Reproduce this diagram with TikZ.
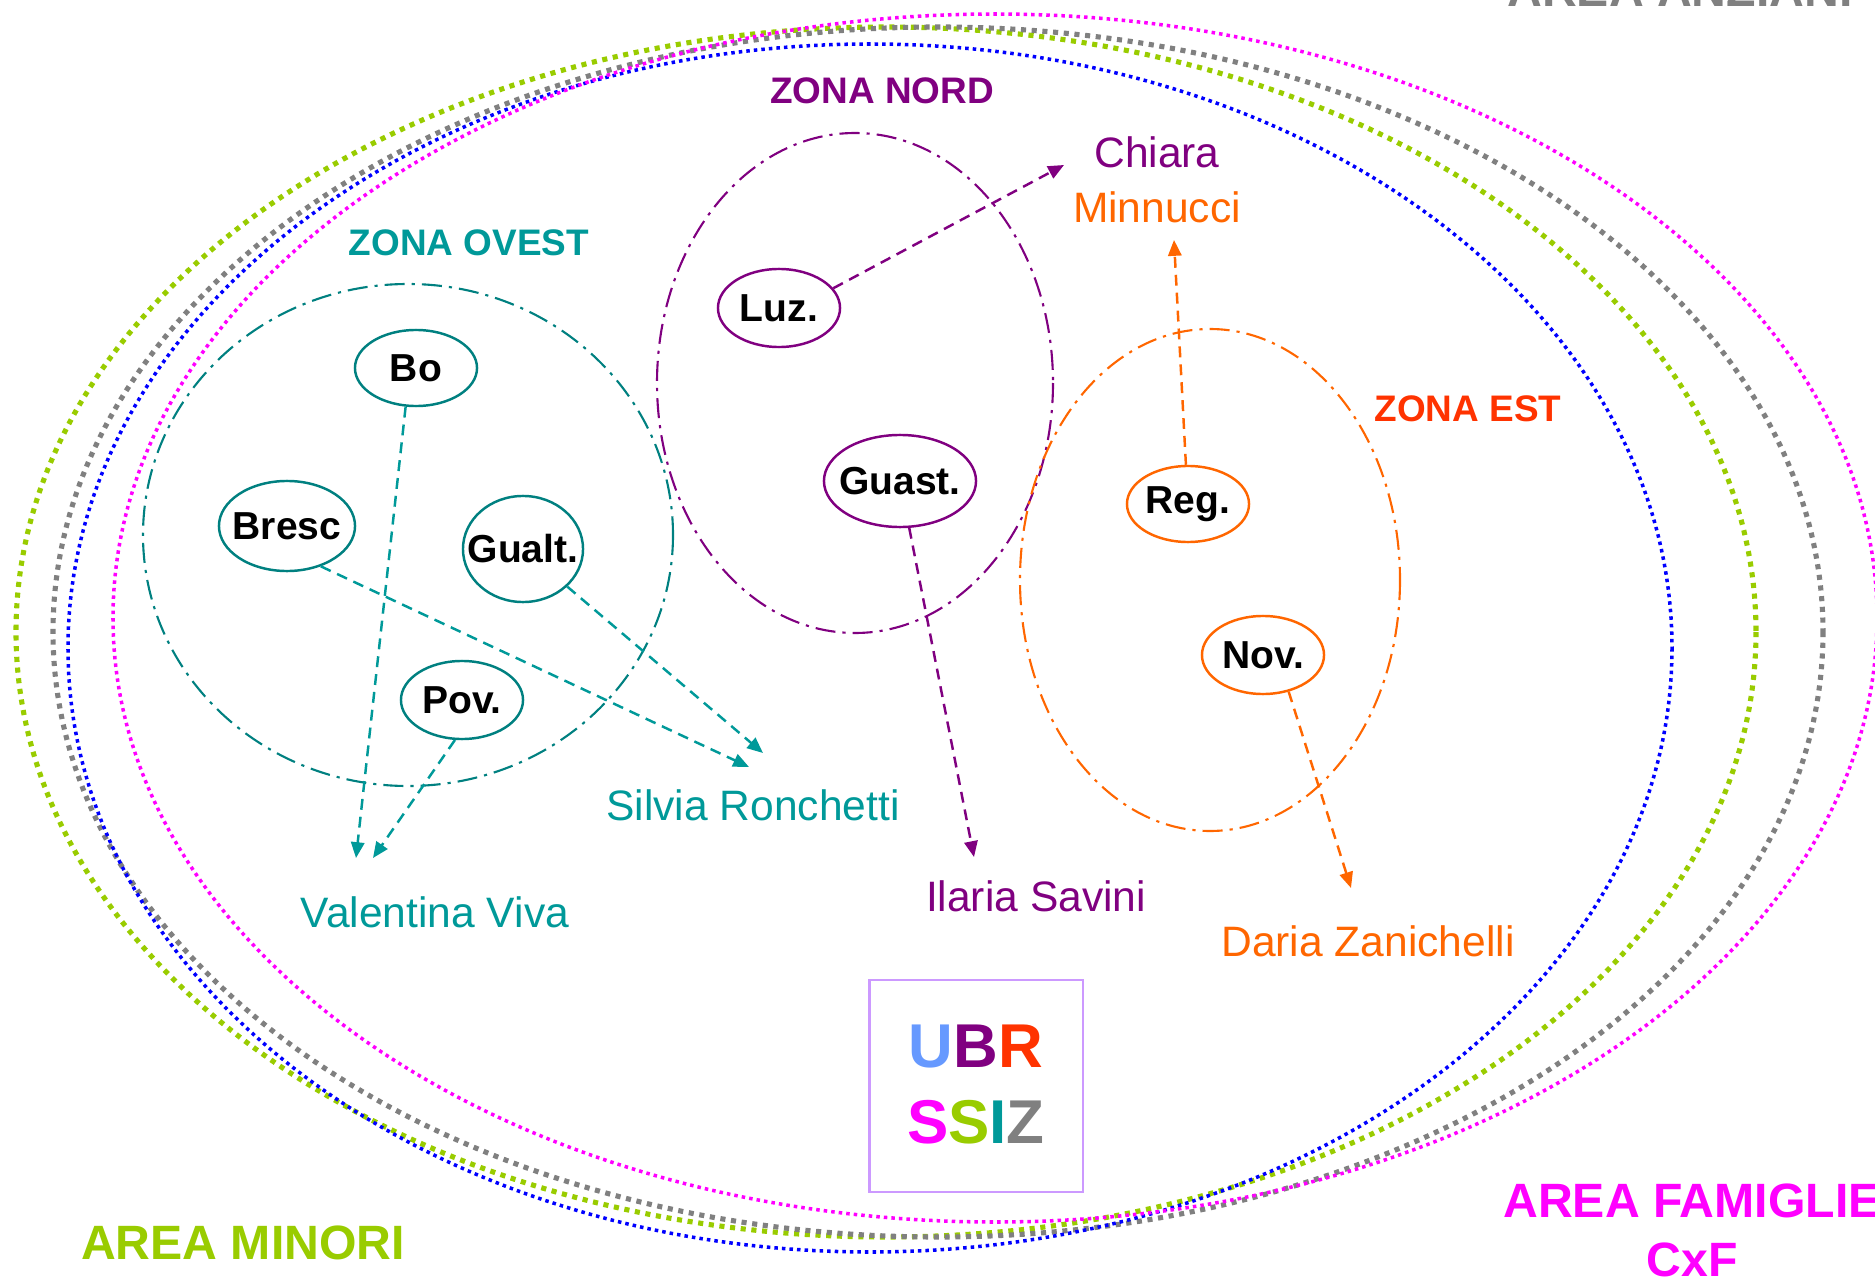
\documentclass[tikz,border=0pt]{standalone}
\usepackage{fontspec}
\setmainfont{Liberation Sans}
\usetikzlibrary{shapes.geometric,arrows.meta}
\definecolor{minori}{HTML}{99CC00}
\definecolor{anziani}{HTML}{808080}
\definecolor{famiglie}{HTML}{FF00FF}
\definecolor{adulti}{HTML}{0000FF}
\definecolor{ovest}{HTML}{008080}
\definecolor{ovesttxt}{HTML}{009999}
\definecolor{nord}{HTML}{800080}
\definecolor{est}{HTML}{FF6600}
\definecolor{esttxt}{HTML}{FF3300}
\definecolor{ubrblu}{HTML}{6699FF}
\definecolor{lilla}{HTML}{CC99FF}
\tikzset{
  areabig/.style={line width=1.45pt, dash pattern=on 1.45pt off 1.6pt},
  areafine/.style={line width=1pt, dash pattern=on 1pt off 1.15pt},
  zona/.style={line width=0.6pt, dash pattern=on 5.7pt off 2pt on 0.9pt off 2pt},
  comune/.style={draw, ellipse, line width=0.7pt, inner sep=-4pt,
    font=\fontsize{11.1}{13}\selectfont\bfseries},
  nome/.style={anchor=base, inner sep=0pt, font=\fontsize{12.1}{14}\selectfont},
  titolo/.style={anchor=base, inner sep=0pt, font=\fontsize{10.5}{12}\selectfont\bfseries},
  etichetta/.style={anchor=base, inner sep=0pt, align=center,
    font=\fontsize{13.7}{16.5}\selectfont\bfseries},
  sigla/.style={anchor=base, inner sep=0pt, font=\fontsize{17.6}{20}\selectfont\bfseries},
  freccia/.style={line width=0.7pt, dash pattern=on 3.1pt off 2pt,
    -{Triangle[length=4.5pt,width=3.8pt]}}
}
\begin{document}
\begin{tikzpicture}[x=0.01cm, y=-0.01cm]
  \useasboundingbox (0,0) rectangle (1875,1279);
  % aree
  \draw[areabig, minori] (886,632) ellipse [x radius=870, y radius=605];
  \draw[areabig, anziani] (938,632) ellipse [x radius=885, y radius=605];
  \draw[areafine, adulti] (870,648) ellipse [x radius=802, y radius=604];
  \draw[areafine, famiglie] (995,618) ellipse [x radius=882, y radius=604];
  % zone
  \draw[zona, ovest] (408,535) ellipse [x radius=265, y radius=251];
  \draw[zona, nord] (855,383) ellipse [x radius=198, y radius=250];
  \draw[zona, est] (1210,580) ellipse [x radius=190, y radius=251];
  \node[titolo, text=ovesttxt] (zovest) at (469,256) {ZONA OVEST};
  \node[titolo, text=nord] (znord) at (882,104) {ZONA NORD};
  \node[titolo, text=esttxt] (zest) at (1468,421) {ZONA EST};
  % comuni
  \node[comune, draw=ovest, minimum width=1.22cm, minimum height=0.76cm] (bo) at (416,368) {Bo};
  \node[comune, draw=ovest, minimum width=1.36cm, minimum height=0.9cm] (bresc) at (287,526) {Bresc};
  \node[comune, draw=ovest, minimum width=1.2cm, minimum height=1.06cm] (gualt) at (523,549) {Gualt.};
  \node[comune, draw=ovest, minimum width=1.22cm, minimum height=0.78cm] (pov) at (462,700) {Pov.};
  \node[comune, draw=nord, minimum width=1.22cm, minimum height=0.78cm] (luz) at (779,308) {Luz.};
  \node[comune, draw=nord, minimum width=1.52cm, minimum height=0.92cm] (guast) at (900,481) {Guast.};
  \node[comune, draw=est, minimum width=1.22cm, minimum height=0.76cm] (reg) at (1188,504) {Reg.};
  \node[comune, draw=est, minimum width=1.22cm, minimum height=0.78cm] (nov) at (1263,655) {Nov.};
  % referenti
  \node[nome, text=nord] (chiara) at (1157,168) {Chiara};
  \node[nome, text=est] (minnucci) at (1157,222) {Minnucci};
  \node[nome, text=ovesttxt] (silvia) at (753,820) {Silvia Ronchetti};
  \node[nome, text=ovesttxt] (valentina) at (435,927) {Valentina Viva};
  \node[nome, text=nord] (ilaria) at (1036,911) {Ilaria Savini};
  \node[nome, text=est] (daria) at (1368,956) {Daria Zanichelli};
  \coordinate (vv1) at (356,858);
  \coordinate (vv2) at (373,858);
  \coordinate (sr1) at (749,767);
  \coordinate (sr2) at (763,753);
  \coordinate (cm1) at (1064,165);
  \coordinate (cm2) at (1174,240);
  \coordinate (is1) at (974,857);
  \coordinate (dz1) at (1351,888);
  \begin{scope}[freccia]
    \draw[ovesttxt] (bo.-105) -- (vv1);
    \draw[ovesttxt] (pov.-100) -- (vv2);
    \draw[ovesttxt] (bresc.-50) -- (sr1);
    \draw[ovesttxt] (gualt) -- (sr2);
    \draw[nord] (luz.20) -- (cm1);
    \draw[est] (reg) -- (cm2);
    \draw[nord] (guast) -- (is1);
    \draw[est] (nov.-55) -- (dz1);
  \end{scope}
  % servizi
  \node[draw=lilla, line width=0.6pt, minimum width=2.13cm, minimum height=2.12cm] (logo) at (976,1086) {};
  \node[sigla] (ubr) at (976,1067) {\textcolor{ubrblu}{U}\textcolor{nord}{B}\textcolor{esttxt}{R}};
  \node[sigla] (ssiz) at (976,1143) {\textcolor{famiglie}{S}\textcolor{minori}{S}\textcolor{ovesttxt}{I}\textcolor{anziani}{Z}};
  \node[etichetta, text=minori] (aminori) at (243,1259) {AREA MINORI};
  \node[etichetta, text=anziani] (aanziani) at (1680,7) {AREA ANZIANI};
  \node[etichetta, text=famiglie] (afamiglie) at (1692,1276) {AREA FAMIGLIE\\CxF};
\end{tikzpicture}
\end{document}
